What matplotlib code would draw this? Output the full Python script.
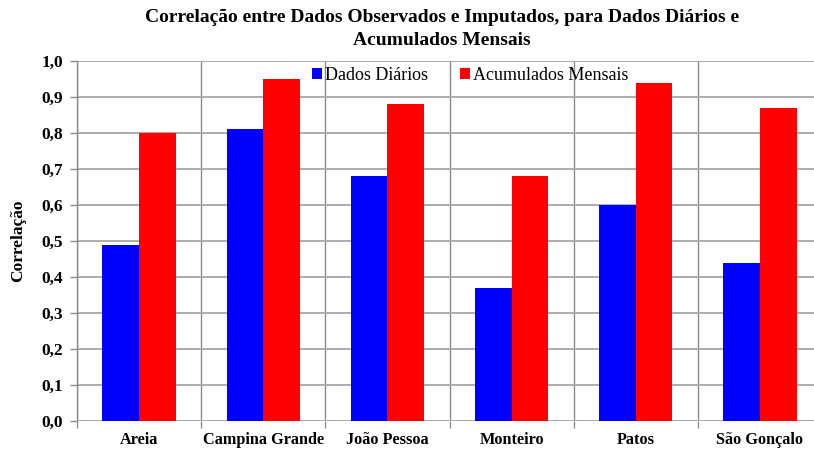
import matplotlib
matplotlib.use("Agg")
import matplotlib.pyplot as plt
import numpy as np
from matplotlib.ticker import FixedLocator, FuncFormatter

categories = ["Areia", "Campina Grande", "João Pessoa", "Monteiro", "Patos", "São Gonçalo"]
dados_diarios = [0.49, 0.81, 0.68, 0.37, 0.60, 0.44]
acumulados_mensais = [0.80, 0.95, 0.88, 0.68, 0.94, 0.87]
series_names = ["Dados Diários", "Acumulados Mensais"]
title = "Correlação entre Dados Observados e Imputados, para Dados Diários e\nAcumulados Mensais"
ylabel = "Correlação"

serif = ["Liberation Serif", "DejaVu Serif"]
plt.rcParams["font.family"] = serif

fig = plt.figure(figsize=(8.14, 4.5), dpi=100)
ax = fig.add_axes([77/814, 1 - 421/450, 745/814, 360/450])

x = np.arange(len(categories))
w = 0.295
ax.bar(x - w/2, dados_diarios, width=w, color="#0000FF", label=series_names[0], zorder=3)
ax.bar(x + w/2, acumulados_mensais, width=w, color="#FF0000", label=series_names[1], zorder=3)

ax.set_xlim(-0.5, len(categories) - 0.5)
ax.set_ylim(0, 1.0)
ax.set_yticks(np.arange(0, 1.01, 0.1))
ax.yaxis.set_major_formatter(FuncFormatter(lambda v, p: f"{v:.1f}".replace(".", ",")))
ax.grid(axis="y", color="#A6A6A6", linewidth=1.3, zorder=0)

ax.set_xticks(x)
ax.set_xticklabels(categories, fontweight="bold", fontsize=11.7)
ax.xaxis.set_minor_locator(FixedLocator(np.arange(-0.5, len(categories), 1.0)))
ax.tick_params(axis="x", which="major", length=0, pad=8)
ax.tick_params(axis="x", which="minor", length=5, direction="out", color="#8C8C8C", width=1.0)
ax.grid(axis="x", which="minor", color="#8C8C8C", linewidth=1.0, zorder=0)
ax.tick_params(axis="y", length=5, direction="out", color="#8C8C8C", width=1.0, pad=5)
for lbl in ax.get_yticklabels():
    lbl.set_fontweight("bold")
    lbl.set_fontsize(12.5)

for s in ["top", "right", "bottom"]:
    ax.spines[s].set_visible(False)
ax.spines["left"].set_color("#8C8C8C")
ax.spines["left"].set_linewidth(1.0)

ax.set_ylabel(ylabel, fontweight="bold", fontsize=12.5)
ax.yaxis.set_label_coords(-0.068, 0.5)

fig.suptitle(title, fontweight="bold", fontsize=14, y=0.98, x=442/814, linespacing=1.45)

leg = ax.legend(loc="upper center", ncol=2, frameon=False, fontsize=13, handlelength=0.55, handleheight=0.55,
                handletextpad=0.15, columnspacing=1.8, borderaxespad=0, borderpad=0)
leg.set_bbox_to_anchor((470/814, 1 - 67/450), transform=fig.transFigure)

fig.savefig("out.png", dpi=100)
